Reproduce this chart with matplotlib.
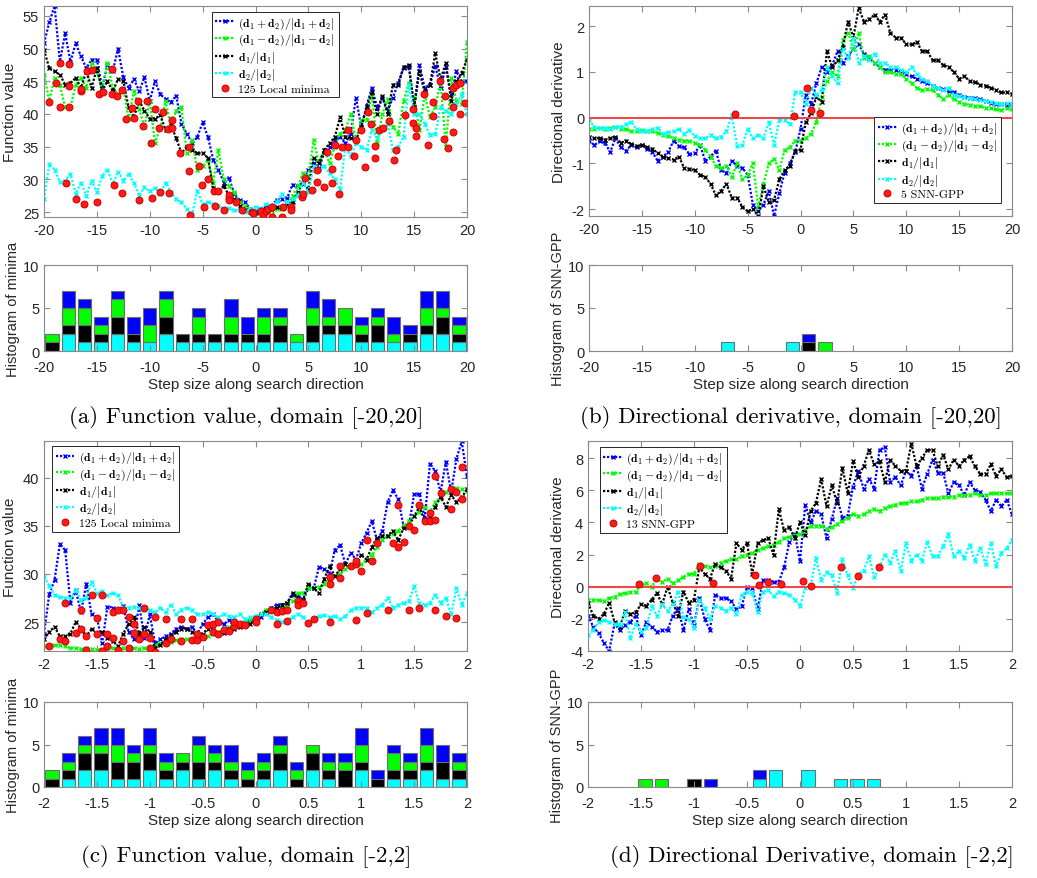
import numpy as np
import matplotlib
matplotlib.use("Agg")
import matplotlib.pyplot as plt
from matplotlib.ticker import FuncFormatter

plt.rcParams['font.family'] = ['Liberation Sans', 'DejaVu Sans']
plt.rcParams['mathtext.fontset'] = 'cm'
plt.rcParams['axes.unicode_minus'] = False

# --- DATA ---
# step sizes of the samples (81 per panel)
x_wide = np.linspace(-20, 20, 81)
x_narrow = np.linspace(-2, 2, 81)

# (a) function value, domain [-20,20]
fa_blue = [50.8, 54.0, 56.5, 48.0, 52.3, 48.0, 50.8, 48.8, 47.0, 48.3,
           48.3, 44.0, 47.5, 46.5, 50.0, 45.6, 44.0, 45.3, 43.5, 45.6,
           42.0, 45.0, 43.0, 42.3, 41.8, 42.8, 38.5, 37.0, 35.5, 36.5,
           38.7, 36.5, 33.0, 31.5, 29.5, 30.2, 27.8, 26.8, 26.5, 25.5,
           25.1, 25.4, 25.8, 26.0, 26.8, 27.0, 27.2, 29.2, 29.0, 29.5,
           31.5, 32.5, 31.8, 34.0, 35.0, 36.0, 36.5, 35.5, 37.0, 42.5,
           38.0, 41.2, 44.0, 41.0, 42.5, 40.5, 42.5, 44.8, 47.0, 47.2,
           41.0, 47.5, 44.0, 44.5, 47.3, 44.0, 47.2, 43.0, 46.5, 45.0,
           45.0]
fa_green = [46.0, 42.0, 45.5, 44.5, 41.0, 41.0, 44.5, 45.5, 44.0, 47.8,
            46.5, 43.5, 47.8, 44.0, 43.0, 44.0, 39.2, 43.5, 40.8, 38.0,
            42.0, 35.5, 38.0, 42.0, 38.0, 40.5, 41.0, 34.0, 36.0, 31.5,
            32.0, 33.0, 29.5, 34.5, 30.0, 29.0, 28.0, 26.5, 26.0, 25.5,
            25.0, 24.8, 25.0, 24.5, 25.5, 25.5, 26.0, 27.5, 29.0, 31.0,
            30.5, 36.0, 32.5, 34.5, 32.5, 35.0, 37.0, 37.5, 40.0, 36.0,
            39.0, 39.0, 43.0, 35.5, 40.0, 42.3, 38.0, 37.0, 42.0, 44.8,
            42.5, 37.5, 43.0, 39.5, 41.0, 45.0, 35.0, 45.5, 42.0, 41.5,
            51.0]
fa_black = [49.8, 47.0, 46.5, 46.0, 44.5, 44.8, 45.5, 44.0, 46.5, 44.0,
            47.0, 43.5, 45.0, 43.5, 45.3, 45.0, 41.0, 39.5, 42.0, 40.5,
            39.3, 39.3, 39.8, 37.5, 38.3, 36.3, 34.0, 35.0, 34.5, 34.0,
            34.0, 33.3, 28.7, 28.3, 29.0, 27.5, 27.0, 26.0, 25.3, 25.0,
            24.8, 25.0, 25.2, 25.5, 25.8, 25.7, 26.3, 26.5, 28.0, 29.3,
            28.5, 33.3, 32.5, 34.5, 35.5, 36.5, 39.5, 36.5, 36.3, 36.0,
            38.0, 41.0, 43.3, 40.0, 42.7, 40.0, 44.5, 44.5, 47.2, 47.5,
            41.0, 46.5, 43.3, 44.5, 49.3, 45.3, 47.8, 42.0, 45.0, 46.3,
            48.3]
fa_cyan = [27.0, 32.3, 31.5, 29.6, 29.8, 30.8, 27.8, 29.5, 27.5, 29.8,
           28.0, 30.5, 31.5, 29.3, 31.2, 29.8, 30.8, 29.5, 27.5, 28.8,
           28.2, 28.7, 27.8, 29.5, 28.0, 27.0, 26.5, 25.5, 24.5, 28.3,
           26.2, 26.5, 26.2, 26.0, 25.5, 25.6, 25.3, 25.3, 25.0, 25.5,
           25.8, 25.5, 26.3, 26.0, 26.5, 27.8, 26.5, 27.0, 27.5, 29.5,
           28.0, 32.0, 31.5, 32.0, 31.0, 30.0, 28.5, 35.0, 33.5, 35.5,
           35.0, 34.5, 37.5, 36.3, 37.5, 38.5, 34.5, 35.0, 36.5, 44.5,
           40.0, 40.0, 38.5, 36.8, 37.0, 41.0, 40.5, 40.0, 41.5, 43.0,
           40.0]
fa_min_x = [-19.5, -18.9, -18.5, -18.5, -17.6, -17.6, -17.6, -17.9, -17.0, -16.5,
            -16.5, -16.2, -15.9, -15.5, -15.0, -14.8, -14.4, -13.6, -13.6, -13.4,
            -13.1, -12.6, -12.6, -12.2, -11.7, -11.5, -11.1, -11.0, -10.6, -10.3,
            -9.9, -9.8, -9.5, -9.1, -9.0, -8.7, -8.3, -8.2, -7.9, -7.9,
            -7.1, -6.3, -6.3, -6.2, -5.3, -5.1, -4.9, -4.5, -3.9, -3.8,
            -3.5, -3.0, -2.5, -2.5, -2.5, -1.8, -1.3, -0.3, -0.2, 0.5,
            0.7, 1.0, 1.2, 1.6, 1.6, 2.5, 2.6, 3.4, 3.4, 4.4,
            4.5, 4.7, 5.3, 5.8, 5.8, 6.5, 6.8, 7.2, 7.2, 7.5,
            7.8, 7.9, 8.2, 8.7, 8.7, 9.3, 9.5, 10.0, 10.4, 10.6,
            10.9, 11.3, 11.3, 11.7, 12.1, 12.6, 13.1, 13.3, 14.1, 14.9,
            14.9, 15.2, 15.2, 15.9, 16.3, 16.8, 16.8, 17.4, 17.8, 17.9,
            18.2, 18.7, 18.7, 18.7, 19.0, 19.3, 19.3, 19.8]
fa_min_y = [41.8, 44.7, 47.8, 41.1, 47.7, 44.3, 41.0, 29.5, 27.0, 43.5,
            43.8, 26.3, 46.6, 46.7, 26.6, 43.1, 43.4, 46.8, 43.0, 29.2,
            42.8, 43.6, 27.9, 39.2, 40.9, 39.4, 42.0, 26.8, 38.1, 42.0,
            35.5, 27.2, 40.7, 37.8, 28.1, 40.3, 37.7, 27.9, 39.0, 37.8,
            34.0, 35.0, 31.3, 24.6, 32.0, 29.1, 25.8, 30.0, 28.2, 25.9,
            28.3, 25.3, 27.2, 27.6, 26.8, 26.5, 25.3, 25.0, 24.8, 25.2,
            24.6, 25.2, 25.5, 24.3, 25.8, 24.3, 25.8, 25.8, 25.3, 27.3,
            27.8, 30.2, 28.4, 31.5, 29.6, 28.8, 34.2, 31.6, 29.5, 35.3,
            33.5, 27.8, 35.0, 37.6, 35.0, 33.5, 36.0, 37.5, 31.9, 40.3,
            38.5, 35.1, 33.3, 37.5, 37.8, 38.9, 32.9, 34.5, 39.8, 38.6,
            40.7, 37.8, 36.6, 43.0, 35.3, 39.7, 41.8, 45.0, 36.2, 42.8,
            34.8, 41.1, 37.3, 44.0, 44.5, 44.7, 40.0, 41.6]
# histogram of minima, 26 bins, per direction
ha_cyan = [0, 2, 1, 1, 2, 1, 1, 2, 1, 1, 1, 1, 1, 1, 1, 1, 1, 2, 2, 1, 1, 1, 1, 2, 2, 1]
ha_black = [1, 1, 2, 1, 2, 1, 0, 2, 1, 1, 1, 1, 1, 1, 2, 0, 2, 1, 1, 1, 2, 0, 1, 1, 2, 1]
ha_green = [1, 2, 2, 1, 2, 0, 2, 2, 0, 2, 0, 2, 0, 2, 1, 1, 2, 1, 2, 1, 1, 1, 0, 2, 1, 1]
ha_blue = [0, 2, 1, 1, 1, 2, 2, 1, 0, 1, 0, 2, 2, 1, 1, 0, 2, 2, 0, 1, 1, 2, 1, 2, 2, 1]

# (b) directional derivative, domain [-20,20]
fb_blue = [-0.5, -0.6, -0.52, -0.55, -0.75, -0.45, -0.65, -0.72, -0.6, -0.65,
           -0.6, -0.68, -0.75, -0.95, -0.85, -0.75, -0.5, -0.62, -0.65, -0.8,
           -0.78, -0.6, -0.95, -0.85, -0.72, -1.15, -1.2, -0.95, -1.05, -1.1,
           -1.25, -1.9, -2.05, -1.9, -1.6, -2.15, -1.65, -1.2, -1.0, -0.75,
           -0.25, 0.5, 0.3, 0.75, 1.1, 1.0, 1.15, 1.45, 1.2, 1.35,
           1.5, 1.6, 1.4, 1.3, 1.2, 1.1, 1.05, 1.05, 1.05, 1.0,
           0.95, 0.9, 0.85, 0.8, 0.75, 0.7, 0.65, 0.62, 0.58, 0.55,
           0.5, 0.46, 0.44, 0.42, 0.4, 0.36, 0.33, 0.3, 0.3, 0.28,
           0.3]
fb_green = [-0.25, -0.25, -0.22, -0.25, -0.23, -0.2, -0.25, -0.25, -0.3, -0.3,
            -0.28, -0.3, -0.3, -0.33, -0.38, -0.4, -0.45, -0.48, -0.5, -0.5,
            -0.55, -0.6, -0.7, -0.85, -1.05, -1.1, -1.05, -1.3, -1.0, -1.35,
            -1.25, -1.0, -1.95, -1.45, -1.0, -0.9, -1.15, -0.7, -0.65, -0.5,
            -0.5, -0.45, -0.35, -0.1, 0.45, 0.8, 1.0, 0.9, 1.7, 1.85,
            1.5, 1.85, 1.3, 1.35, 1.2, 1.1, 1.0, 1.0, 0.95, 0.95,
            0.85, 0.75, 0.65, 0.6, 0.62, 0.6, 0.5, 0.4, 0.5, 0.4,
            0.35, 0.3, 0.28, 0.25, 0.25, 0.22, 0.2, 0.18, 0.17, 0.2,
            0.18]
fb_black = [-0.42, -0.45, -0.45, -0.48, -0.45, -0.42, -0.55, -0.5, -0.58, -0.62,
            -0.6, -0.65, -0.68, -0.78, -0.85, -0.88, -0.92, -0.85, -1.1, -1.12,
            -1.15, -1.25, -1.3, -1.45, -1.7, -1.6, -1.45, -1.75, -1.75, -1.95,
            -2.05, -2.0, -2.15, -1.5, -1.85, -1.8, -1.35, -1.15, -1.05, -0.72,
            -0.7, -0.1, 0.1, 0.45, 0.35, 1.45, 1.1, 1.25, 1.55, 2.1,
            1.75, 2.4, 2.1, 2.15, 2.25, 2.1, 2.25, 1.85, 1.75, 1.75,
            1.6, 1.6, 1.65, 1.45, 1.45, 1.25, 1.25, 1.15, 1.1, 1.0,
            0.85, 0.9, 0.8, 0.78, 0.72, 0.7, 0.65, 0.6, 0.55, 0.55,
            0.52]
fb_cyan = [-0.05, -0.2, -0.22, -0.22, -0.25, -0.2, -0.2, -0.15, -0.1, -0.25,
           -0.3, -0.3, -0.25, -0.22, -0.35, -0.32, -0.3, -0.25, -0.35, -0.28,
           -0.4, -0.45, -0.45, -0.38, -0.45, -0.42, -0.3, 0.05, -0.62, -0.6,
           -0.25, -0.45, -0.38, -0.45, -0.1, -0.6, -0.05, -0.05, -0.15, 0.55,
           0.55, 0.3, 0.65, 0.5, 0.6, 1.1, 0.9, 0.75, 1.5, 1.3,
           1.75, 1.2, 1.35, 1.25, 1.4, 1.2, 1.2, 1.1, 1.1, 1.05,
           1.0, 1.1, 0.95, 0.85, 0.8, 0.7, 0.65, 0.6, 0.65, 0.5,
           0.48, 0.45, 0.42, 0.4, 0.38, 0.36, 0.35, 0.32, 0.3, 0.32,
           0.3]
fb_min_x = [-6.24, -0.63, 0.57, 1.04, 1.83]
fb_min_y = [0.07, 0.04, 0.64, 0.16, 0.11]
hb_cyan = [0, 0, 0, 0, 0, 0, 0, 0, 1, 0, 0, 0, 1, 0, 0, 0, 0, 0, 0, 0, 0, 0, 0, 0, 0, 0]
hb_black = [0, 0, 0, 0, 0, 0, 0, 0, 0, 0, 0, 0, 0, 1, 0, 0, 0, 0, 0, 0, 0, 0, 0, 0, 0, 0]
hb_green = [0, 0, 0, 0, 0, 0, 0, 0, 0, 0, 0, 0, 0, 0, 1, 0, 0, 0, 0, 0, 0, 0, 0, 0, 0, 0]
hb_blue = [0, 0, 0, 0, 0, 0, 0, 0, 0, 0, 0, 0, 0, 1, 0, 0, 0, 0, 0, 0, 0, 0, 0, 0, 0, 0]

# (c) function value, domain [-2,2]
fc_blue = [23.8, 27.9, 29.4, 33.1, 32.5, 27.0, 28.3, 26.0, 29.0, 25.8,
           25.5, 22.8, 26.6, 26.5, 26.2, 26.7, 24.0, 23.2, 26.8, 23.3,
           25.8, 22.8, 23.2, 23.5, 23.8, 24.3, 24.5, 24.3, 24.5, 23.8,
           24.8, 25.5, 25.8, 25.0, 24.8, 25.2, 24.5, 24.8, 25.0, 25.2,
           25.3, 25.5, 26.0, 26.5, 26.8, 26.8, 27.0, 27.8, 27.8, 27.3,
           28.5, 28.5, 30.7, 30.5, 30.0, 32.5, 33.0, 31.0, 32.2, 31.5,
           33.2, 34.3, 35.5, 33.5, 34.5, 37.5, 38.7, 37.8, 35.0, 35.0,
           38.3, 38.3, 35.8, 41.5, 40.7, 38.5, 41.7, 38.5, 42.0, 43.8,
           40.2]
fc_green = [22.5, 22.5, 22.6, 22.6, 22.5, 22.3, 22.3, 22.2, 22.3, 22.2,
            22.1, 22.2, 22.2, 22.3, 22.2, 22.3, 22.4, 22.3, 22.2, 22.3,
            22.2, 22.6, 22.8, 22.9, 22.9, 23.1, 23.2, 23.2, 23.2, 23.2,
            23.3, 23.5, 23.8, 24.0, 24.2, 24.5, 24.6, 24.8, 25.0, 25.2,
            25.5, 25.8, 26.3, 26.3, 26.5, 26.6, 26.8, 27.2, 28.0, 28.0,
            28.5, 28.5, 28.6, 29.0, 29.5, 29.8, 30.0, 30.5, 31.0, 31.2,
            31.0, 31.5, 32.0, 32.8, 33.5, 34.0, 34.2, 34.5, 35.0, 35.5,
            36.0, 36.5, 37.0, 36.5, 37.5, 38.0, 38.5, 38.8, 39.0, 38.8,
            38.6]
fc_black = [23.2, 24.0, 24.5, 23.5, 23.5, 23.8, 25.0, 24.3, 23.5, 24.3,
            23.8, 24.0, 23.3, 23.0, 22.5, 23.8, 24.8, 25.5, 23.8, 24.5,
            24.0, 22.3, 22.6, 23.2, 23.5, 24.0, 24.3, 24.3, 24.0, 23.5,
            23.8, 24.3, 24.2, 23.8, 23.9, 24.3, 24.3, 24.5, 24.8, 24.8,
            25.3, 25.8, 26.0, 26.2, 26.5, 26.8, 27.0, 28.0, 27.5, 27.3,
            29.0, 28.5, 28.0, 29.5, 30.8, 29.8, 30.5, 31.0, 30.8, 31.0,
            32.0, 31.5, 32.8, 33.8, 34.0, 34.0, 34.5, 33.5, 34.8, 35.0,
            36.0, 37.0, 35.5, 35.8, 37.0, 38.0, 37.0, 38.2, 37.5, 38.0,
            38.8]
fc_cyan = [29.7, 28.8, 27.8, 27.6, 27.5, 27.5, 28.3, 27.3, 27.5, 29.2,
           28.0, 28.2, 27.8, 28.0, 27.8, 26.5, 26.5, 26.6, 26.5, 26.2,
           26.2, 26.0, 26.5, 26.0, 26.8, 25.8, 26.3, 26.5, 26.3, 25.8,
           25.8, 26.0, 25.8, 25.5, 25.8, 25.6, 25.5, 25.8, 25.3, 25.5,
           25.6, 25.8, 25.8, 25.5, 25.2, 25.0, 25.2, 25.5, 25.8, 25.5,
           25.0, 25.2, 25.6, 25.7, 25.5, 25.6, 25.3, 25.6, 26.2, 26.5,
           26.5, 26.5, 26.0, 26.5, 26.8, 27.5, 26.5, 26.8, 27.0, 27.2,
           28.7, 27.0, 26.8, 27.0, 27.8, 27.0, 27.5, 25.8, 28.5, 26.8,
           28.0]
fc_min_x = [-1.95, -1.85, -1.8, -1.8, -1.7, -1.65, -1.65, -1.6, -1.6, -1.55,
            -1.5, -1.5, -1.45, -1.45, -1.4, -1.4, -1.35, -1.35, -1.3, -1.3,
            -1.25, -1.25, -1.2, -1.2, -1.15, -1.15, -1.1, -1.05, -1.05, -1.0,
            -1.0, -0.95, -0.95, -0.85, -0.85, -0.8, -0.7, -0.7, -0.6, -0.6,
            -0.55, -0.55, -0.5, -0.45, -0.4, -0.4, -0.35, -0.35, -0.3, -0.25,
            -0.2, -0.2, -0.15, -0.1, 0.0, 0.0, 0.15, 0.2, 0.2, 0.25,
            0.3, 0.3, 0.4, 0.4, 0.45, 0.5, 0.55, 0.7, 0.7, 0.7,
            0.8, 0.8, 0.9, 0.95, 0.95, 0.95, 1.0, 1.05, 1.05, 1.1,
            1.15, 1.25, 1.3, 1.35, 1.35, 1.4, 1.45, 1.45, 1.5, 1.55,
            1.55, 1.6, 1.65, 1.65, 1.7, 1.7, 1.7, 1.75, 1.8, 1.85,
            1.85, 1.9, 1.9, 1.95, 1.95]
fc_min_y = [22.5, 23.2, 27.0, 23.0, 23.9, 26.3, 24.3, 22.1, 23.5, 27.8,
            25.4, 23.7, 27.8, 22.0, 23.7, 22.5, 26.0, 23.3, 26.2, 22.1,
            26.3, 23.0, 25.5, 22.3, 24.8, 23.9, 23.2, 26.5, 23.8, 23.3,
            22.3, 25.5, 21.9, 25.3, 22.8, 23.2, 25.3, 23.0, 25.3, 23.1,
            23.1, 23.7, 23.4, 24.7, 24.8, 24.0, 25.0, 23.8, 24.2, 24.1,
            24.6, 25.0, 24.8, 24.7, 25.3, 25.0, 26.3, 26.0, 24.8, 26.1,
            26.2, 25.1, 27.2, 26.8, 27.0, 24.9, 25.3, 29.7, 29.0, 25.0,
            29.6, 30.8, 30.8, 31.0, 31.4, 25.2, 30.3, 33.5, 25.9, 31.4,
            33.2, 26.2, 33.2, 32.8, 37.2, 33.3, 35.0, 26.3, 34.6, 37.2,
            26.5, 35.5, 35.5, 36.3, 40.2, 35.6, 26.2, 38.4, 25.6, 36.8,
            38.9, 38.5, 25.4, 41.1, 37.8]
hc_cyan = [0, 1, 2, 2, 1, 1, 2, 1, 2, 1, 2, 1, 0, 1, 2, 0, 2, 1, 0, 2, 0, 1, 1, 2, 1, 1]
hc_black = [1, 1, 2, 2, 2, 2, 2, 1, 1, 2, 1, 1, 1, 1, 2, 1, 2, 1, 2, 1, 1, 1, 1, 1, 2, 1]
hc_green = [1, 1, 1, 1, 2, 1, 1, 1, 1, 2, 1, 1, 1, 1, 1, 1, 1, 1, 1, 2, 0, 2, 1, 2, 0, 1]
hc_blue = [0, 1, 1, 2, 2, 1, 2, 1, 0, 1, 1, 2, 1, 1, 1, 1, 0, 1, 1, 2, 1, 1, 1, 2, 2, 1]

# (d) directional derivative, domain [-2,2]
fd_blue = [-1.8, -2.5, -2.9, -3.5, -4.0, -2.3, -2.7, -2.4, -2.2, -1.8,
           -3.0, -2.2, -2.5, -2.8, -2.7, -2.7, -1.8, -1.3, -2.7, -1.4,
           -2.4, -0.7, -2.0, -2.7, -0.5, -0.7, -0.7, -0.9, -1.4, -1.2,
           -0.05, -0.1, -1.4, 0.4, 0.4, 0.3, 0.3, 1.2, 2.8, 3.3,
           1.6, 5.1, 4.0, 4.7, 4.5, 3.0, 4.2, 5.5, 4.3, 4.4,
           6.2, 7.2, 6.1, 6.7, 6.1, 8.5, 8.7, 6.5, 6.8, 6.3,
           7.2, 6.9, 7.5, 6.1, 7.0, 7.9, 7.1, 7.1, 5.8, 6.5,
           6.3, 5.7, 6.5, 6.0, 5.9, 5.4, 4.7, 5.4, 5.0, 5.4,
           4.5]
fd_green = [-0.8, -0.8, -0.85, -0.9, -0.7, -0.65, -0.45, -0.4, -0.35, -0.3,
            0.1, 0.2, 0.0, 0.5, 0.3, 0.5, 0.2, 0.4, 0.6, 0.8,
            0.8, 1.4, 1.3, 1.2, 1.3, 1.5, 1.6, 1.7, 1.7, 1.9,
            2.0, 2.1, 2.3, 2.4, 2.5, 2.6, 2.8, 3.0, 3.1, 3.2,
            3.3, 3.5, 3.8, 3.8, 3.8, 3.6, 3.7, 3.9, 4.1, 4.3,
            4.5, 4.4, 4.5, 4.7, 4.8, 4.7, 4.9, 5.0, 5.1, 5.2,
            5.2, 5.3, 5.3, 5.4, 5.5, 5.5, 5.5, 5.6, 5.6, 5.6,
            5.7, 5.7, 5.7, 5.8, 5.7, 5.7, 5.8, 5.8, 5.8, 5.8,
            5.8]
fd_black = [-1.0, -1.8, -2.0, -1.7, -1.0, -2.2, -2.5, -1.5, -1.7, -1.6,
            -1.1, -1.2, -0.8, -0.4, -1.1, 0.0, -1.0, -1.8, -0.3, -1.0,
            -0.8, 1.2, 0.8, 0.5, 1.4, 1.2, 1.0, 0.5, 2.7, 2.3,
            2.7, 0.8, 2.7, 2.9, 3.0, 2.0, 4.8, 3.5, 3.7, 3.0,
            4.0, 3.2, 4.7, 5.2, 6.7, 5.0, 6.3, 5.2, 7.4, 5.8,
            7.8, 6.8, 7.5, 8.5, 7.6, 7.8, 6.5, 7.9, 7.5, 7.2,
            7.2, 8.9, 7.5, 8.0, 8.5, 8.5, 7.5, 8.2, 7.3, 7.9,
            7.5, 7.9, 8.1, 7.5, 7.0, 7.0, 7.6, 6.9, 7.3, 6.8,
            6.9]
fd_cyan = [-3.0, -2.7, -2.2, -2.1, -2.2, -2.3, -2.4, -1.6, -3.2, -2.3,
           -2.8, -2.6, -1.2, -1.8, -1.1, -1.5, -1.1, -0.3, -1.9, -2.0,
           -2.6, -0.8, -1.3, -2.0, -1.2, -1.3, -1.5, -1.3, -1.7, -0.5,
           -0.3, -0.4, -1.6, -0.3, -0.2, -0.6, -0.3, -0.4, -0.5, -0.8,
           -1.2, -0.1, 0.0, 1.8, 0.4, 0.9, 0.7, -0.4, 1.7, 0.7,
           -0.1, 0.8, 1.0, 1.9, 0.6, 1.2, 2.0, 1.5, 2.2, 1.0,
           2.7, 1.6, 2.0, 1.6, 2.8, 1.9, 1.9, 2.5, 3.3, 1.9,
           2.2, 1.8, 2.6, 1.6, 2.4, 1.4, 2.7, 1.3, 2.1, 2.4,
           2.9]
fd_min_x = [-1.52, -1.355, -0.945, -0.825, -0.425, -0.384, -0.3, -0.18, 0.025, 0.10, 0.387, 0.55, 0.747]
fd_min_y = [0.15, 0.56, 1.29, 0.2, 0.7, 0.12, 0.29, 0.17, 0.33, 0.04, 1.25, 0.66, 1.25]
hd_cyan = [0, 0, 0, 0, 0, 0, 0, 0, 0, 0, 1, 2, 0, 2, 0, 1, 1, 1, 0, 0, 0, 0, 0, 0, 0, 0]
hd_black = [0, 0, 0, 0, 0, 0, 1, 0, 0, 0, 0, 0, 0, 0, 0, 0, 0, 0, 0, 0, 0, 0, 0, 0, 0, 0]
hd_green = [0, 0, 0, 1, 1, 0, 0, 0, 0, 0, 0, 0, 0, 0, 0, 0, 0, 0, 0, 0, 0, 0, 0, 0, 0, 0]
hd_blue = [0, 0, 0, 0, 0, 0, 0, 1, 0, 0, 1, 0, 0, 0, 0, 0, 0, 0, 0, 0, 0, 0, 0, 0, 0, 0]

labels = [r'$(\mathbf{d}_1+\mathbf{d}_2)/|\mathbf{d}_1+\mathbf{d}_2|$',
          r'$(\mathbf{d}_1-\mathbf{d}_2)/|\mathbf{d}_1-\mathbf{d}_2|$',
          r'$\mathbf{d}_1/|\mathbf{d}_1|$',
          r'$\mathbf{d}_2/|\mathbf{d}_2|$']
colors = ['#0000ff', '#00ff00', '#000000', '#00ffff']

# --- FIGURE ---
W, H = 1037, 879
fig = plt.figure(figsize=(W / 100, H / 100), dpi=100)


def px_axes(l, t, r, b):
    return fig.add_axes([l / W, 1 - b / H, (r - l) / W, (b - t) / H])


def style(ax, xpad=4.5):
    for s in ax.spines.values():
        s.set_color('#8a8a8a')
        s.set_linewidth(0.8)
    ax.tick_params(direction='in', top=True, right=True, color='#8a8a8a',
                   labelcolor='#262626', labelsize=10.5, length=4, width=0.8)
    ax.tick_params(axis='x', pad=xpad)


def top_panel(ax, x, series, mx, my, dot_label, ylim, yticks, xlim, xticks, ylabel, leg_loc, leg_anchor, zero_line=False):
    for ys, c, lab in zip(series, colors, labels):
        ax.plot(x, ys, ls=(0, (1.0, 0.8)), marker='x', ms=3, mew=1.0, lw=1.6, color=c, label=lab)
    if zero_line:
        ax.axhline(0, color='#f04848', lw=1.5, zorder=3)
    ax.plot(mx, my, ls='none', marker='o', ms=5, mfc='#ff1a1a', mec='#d00000', mew=0.7,
            label=dot_label, zorder=4)
    ax.set_xlim(xlim)
    ax.set_ylim(ylim)
    ax.set_xticks(xticks)
    ax.set_yticks(yticks)
    ax.xaxis.set_major_formatter(FuncFormatter(lambda v, p: '%g' % v))
    ax.yaxis.set_major_formatter(FuncFormatter(lambda v, p: '%g' % v))
    ax.set_ylabel(ylabel, fontsize=11, color='#262626')
    leg = ax.legend(loc=leg_loc, bbox_to_anchor=leg_anchor, fancybox=False, framealpha=1,
                    edgecolor='#262626', prop={'family': 'cmr10', 'size': 8.5},
                    labelspacing=0.12, handlelength=1.6, handletextpad=0.35,
                    borderpad=0.3, borderaxespad=0)
    leg.get_frame().set_linewidth(0.7)
    style(ax)


def hist_panel(ax, lo, hi, stacks, xticks, ylabel):
    edges = np.linspace(lo, hi, len(stacks[0]) + 1)
    centers = (edges[:-1] + edges[1:]) / 2
    width = (edges[1] - edges[0]) * 0.82
    bottom = np.zeros(len(centers))
    # stack order: d2, d1, d1-d2, d1+d2
    for counts, col in zip(stacks, ['#00ffff', '#000000', '#00ff00', '#0000ff']):
        counts = np.array(counts, dtype=float)
        m = counts > 0
        ax.bar(centers[m], counts[m], width, bottom=bottom[m], color=col,
               edgecolor='#6e6e6e', linewidth=0.8)
        bottom += counts
    ax.set_xlim(lo, hi)
    ax.set_ylim(0, 10)
    ax.set_xticks(xticks)
    ax.set_yticks([0, 5, 10])
    ax.xaxis.set_major_formatter(FuncFormatter(lambda v, p: '%g' % v))
    ax.set_ylabel(ylabel, fontsize=10.5, color='#262626', labelpad=2)
    ax.set_xlabel('Step size along search direction', fontsize=11, color='#262626', labelpad=2)
    style(ax, xpad=6.5)


xt_wide = [-20, -15, -10, -5, 0, 5, 10, 15, 20]
xt_narrow = [-2, -1.5, -1, -0.5, 0, 0.5, 1, 1.5, 2]

# (a)
ax = px_axes(44, 7, 467, 218)
top_panel(ax, x_wide, [fa_blue, fa_green, fa_black, fa_cyan], fa_min_x, fa_min_y,
          '125 Local minima', (24.25, 56.5), [25, 30, 35, 40, 45, 50, 55], (-20, 20), xt_wide,
          'Function value', 'upper left', (0.397, 0.972))
ax = px_axes(44, 266, 467, 352)
hist_panel(ax, -20, 20, [ha_cyan, ha_black, ha_green, ha_blue], xt_wide, 'Histogram of minima')

# (b)
ax = px_axes(589, 7, 1012, 217)
top_panel(ax, x_wide, [fb_blue, fb_green, fb_black, fb_cyan], fb_min_x, fb_min_y,
          '5 SNN-GPP', (-2.15, 2.44), [-2, -1, 0, 1, 2], (-20, 20), xt_wide,
          'Directional derivative', 'lower right', (0.974, 0.062), zero_line=True)
ax = px_axes(589, 266, 1012, 352)
hist_panel(ax, -20, 20, [hb_cyan, hb_black, hb_green, hb_blue], xt_wide, 'Histogram of SNN-GPP')

# (c)
ax = px_axes(44, 442, 467, 652)
top_panel(ax, x_narrow, [fc_blue, fc_green, fc_black, fc_cyan], fc_min_x, fc_min_y,
          '125 Local minima', (21.98, 43.85), [25, 30, 35, 40], (-2, 2), xt_narrow,
          'Function value', 'upper left', (0.019, 0.976))
ax = px_axes(44, 703, 467, 788)
hist_panel(ax, -2, 2, [hc_cyan, hc_black, hc_green, hc_blue], xt_narrow, 'Histogram of minima')

# (d)
ax = px_axes(588, 442, 1012, 652)
top_panel(ax, x_narrow, [fd_blue, fd_green, fd_black, fd_cyan], fd_min_x, fd_min_y,
          '13 SNN-GPP', (-4, 9.06), [-4, -2, 0, 2, 4, 6, 8], (-2, 2), xt_narrow,
          'Directional derivative', 'upper left', (0.028, 0.971), zero_line=True)
ax = px_axes(588, 703, 1012, 788)
hist_panel(ax, -2, 2, [hd_cyan, hd_black, hd_green, hd_blue], xt_narrow, 'Histogram of SNN-GPP')

# captions
cap = dict(family='cmr10', fontsize=16.5, ha='center', va='center', color='black')
fig.text(246 / W, 1 - 418 / H, '(a) Function value, domain [-20,20]', **cap)
fig.text(791 / W, 1 - 418 / H, '(b) Directional derivative, domain [-20,20]', **cap)
fig.text(246 / W, 1 - 857 / H, '(c) Function value, domain [-2,2]', **cap)
fig.text(812 / W, 1 - 857 / H, '(d) Directional Derivative, domain [-2,2]', **cap)

fig.savefig('out.png', dpi=100)
